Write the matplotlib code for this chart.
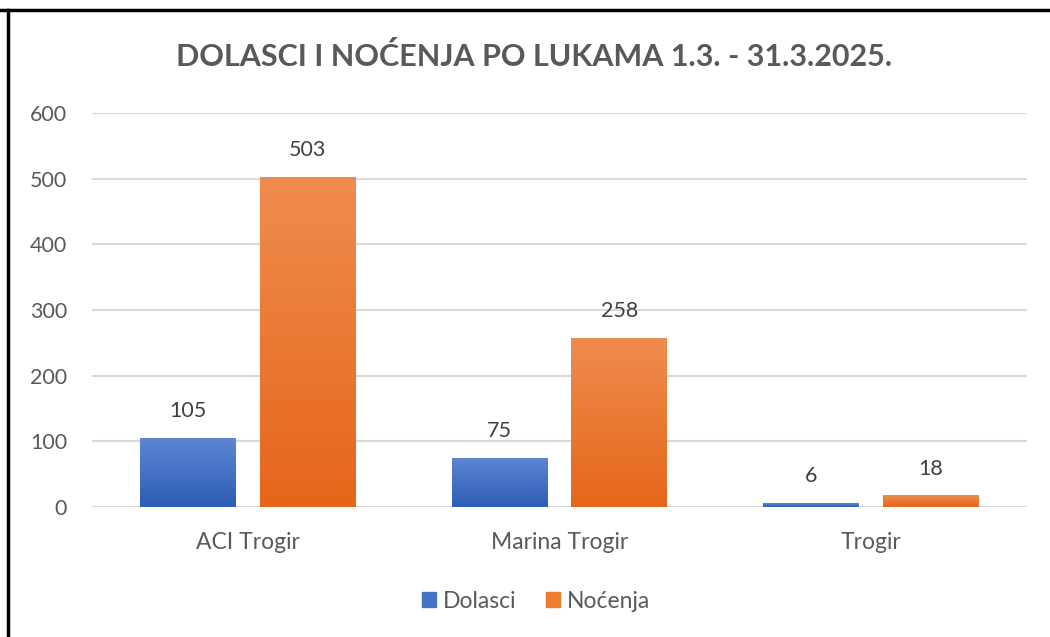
import matplotlib.pyplot as plt
import numpy as np
from matplotlib.lines import Line2D
from matplotlib.patches import Patch

plt.rcParams['font.family'] = ['Lato', 'DejaVu Sans']

# Data
ports = ['ACI Trogir', 'Marina Trogir', 'Trogir']
dolasci = [105, 75, 6]
nocenja = [503, 258, 18]
series_names = ['Dolasci', 'Noćenja']
yticks = [0, 100, 200, 300, 400, 500, 600]

text_col = '#595959'
grid_col = '#D9D9D9'
blue_top, blue_bot = '#5C86D2', '#2D5DB6'
orange_top, orange_bot = '#F08C4E', '#E5661A'

fig = plt.figure(figsize=(10.5, 6.37), dpi=100)
ax = fig.add_axes([92 / 1050, 1 - 507 / 637, (1027 - 92) / 1050, (507 - 113) / 637])

x = np.arange(len(ports))
w = 0.308
off = 0.192


def gradient_bars(xpos, vals, c_top, c_bot):
    bars = ax.bar(xpos, vals, w, color=c_bot, zorder=3)
    top = np.array(plt.matplotlib.colors.to_rgb(c_top))
    bot = np.array(plt.matplotlib.colors.to_rgb(c_bot))
    grad = np.linspace(0, 1, 256)[:, None]
    img = top[None, None, :] * grad[:, :, None] + bot[None, None, :] * (1 - grad[:, :, None])
    for b in bars:
        bx, by = b.get_x(), b.get_y()
        bw, bh = b.get_width(), b.get_height()
        im = ax.imshow(img, extent=[bx, bx + bw, by, by + bh], origin='lower',
                       aspect='auto', zorder=4)
        im.set_clip_path(b)
    return bars


b1 = gradient_bars(x - off, dolasci, blue_top, blue_bot)
b2 = gradient_bars(x + off, nocenja, orange_top, orange_bot)

for xi, v in zip(x - off, dolasci):
    ax.annotate(str(v), (xi, v), xytext=(0, 12), textcoords='offset points',
                ha='center', va='bottom', fontsize=15.5, color='#404040')
for xi, v in zip(x + off, nocenja):
    ax.annotate(str(v), (xi, v), xytext=(0, 12), textcoords='offset points',
                ha='center', va='bottom', fontsize=15.5, color='#404040')

ax.set_xlim(-0.5, 2.5)
ax.set_ylim(0, 600)
ax.set_yticks(yticks)
ax.set_xticks(x)
ax.set_xticklabels(ports)
ax.tick_params(axis='y', length=0, pad=18, labelsize=15.5, labelcolor=text_col)
ax.tick_params(axis='x', length=0, pad=18, labelsize=16.5, labelcolor=text_col)
ax.grid(axis='y', color=grid_col, linewidth=1.5, zorder=0)
for s in ax.spines.values():
    s.set_visible(False)

fig.text(534 / 1050, 1 - 57 / 637, 'DOLASCI I NOĆENJA PO LUKAMA 1.3. - 31.3.2025.',
         ha='center', va='center', fontsize=22, fontweight='bold', color=text_col)

handles = [Patch(color='#4472C4'), Patch(color='#ED7D31')]
fig.legend(handles, series_names, loc='center', bbox_to_anchor=(536 / 1050, 1 - 601 / 637),
           ncol=2, frameon=False, fontsize=16.5, labelcolor=text_col,
           handlelength=0.6, handleheight=0.6, handletextpad=0.3, columnspacing=1.3)

# black border on top and left
fig.add_artist(Line2D([0, 1], [1 - 10 / 637, 1 - 10 / 637], color='black', lw=2.5,
                      transform=fig.transFigure))
fig.add_artist(Line2D([8 / 1050, 8 / 1050], [0, 1 - 10 / 637], color='black', lw=2.5,
                      transform=fig.transFigure))

fig.savefig('out.png', dpi=100)
